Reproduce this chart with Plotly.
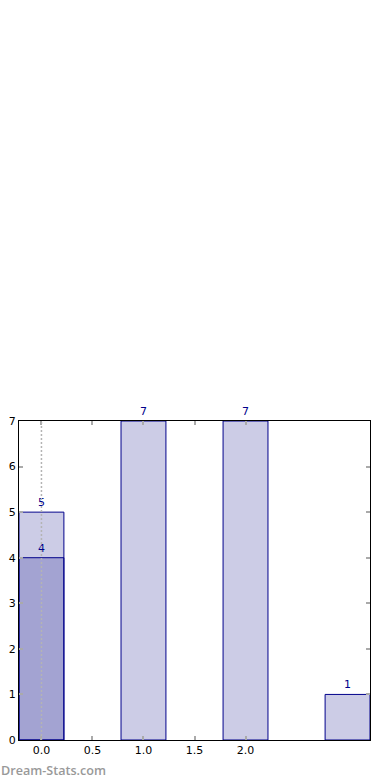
import plotly.graph_objects as go

# data
categories = [0, 1, 2, 3]
series_a = [5, 7, 7, 1]
overlay_x = [0]
overlay_vals = [4]
xtick_vals = [0.0, 0.5, 1.0, 1.5, 2.0]
xtick_text = ["0.0", "0.5", "1.0", "1.5", "2.0"]
ytick_vals = [0, 1, 2, 3, 4, 5, 6, 7]

fill = "rgba(0,0,128,0.2)"
edge = "#00008B"
font_fam = "DejaVu Sans"

fig = go.Figure()
fig.add_trace(go.Bar(
    x=categories, y=series_a, width=0.44,
    marker=dict(color=fill, line=dict(color=edge, width=1)),
    text=[str(v) for v in series_a], textposition="outside",
    textfont=dict(color=edge, size=11, family=font_fam),
    cliponaxis=False, hoverinfo="skip",
))
fig.add_trace(go.Bar(
    x=overlay_x, y=overlay_vals, width=0.44,
    marker=dict(color=fill, line=dict(color=edge, width=1)),
    text=[str(v) for v in overlay_vals], textposition="outside",
    textfont=dict(color=edge, size=11, family=font_fam),
    cliponaxis=False, hoverinfo="skip",
))

fig.add_vline(x=categories[0], line=dict(color="#b4b4b4", width=1.5, dash="2px,2px"), layer="above")

fig.update_layout(
    barmode="overlay",
    width=390, height=780,
    margin=dict(l=19, r=20, t=421, b=40, autoexpand=False),
    paper_bgcolor="white", plot_bgcolor="white",
    showlegend=False,
    font=dict(family=font_fam, size=11, color="black"),
    uniformtext=dict(minsize=11, mode="show"),
)
fig.update_xaxes(
    range=[-0.22, 3.22], tickvals=xtick_vals, ticktext=xtick_text,
    showline=True, linecolor="black", linewidth=1, mirror="ticks",
    ticks="inside", ticklen=4, tickcolor="#aaaaaa", tickwidth=2,
    showgrid=False, zeroline=False, tickfont=dict(size=11), automargin=False,
)
fig.update_yaxes(
    range=[0, 7], tickvals=ytick_vals,
    showline=True, linecolor="black", linewidth=1, mirror="ticks",
    ticks="inside", ticklen=4, tickcolor="#aaaaaa", tickwidth=2,
    showgrid=False, zeroline=False, tickfont=dict(size=11), automargin=False,
)
fig.add_annotation(
    text="Dream-Stats.com", xref="paper", yref="paper",
    x=0, y=0, xanchor="left", yanchor="top", yshift=-20, xshift=-20,
    showarrow=False,
    font=dict(color="#999999", size=12.6, family="Open Sans", weight=600),
)
fig.write_html("out.html")
